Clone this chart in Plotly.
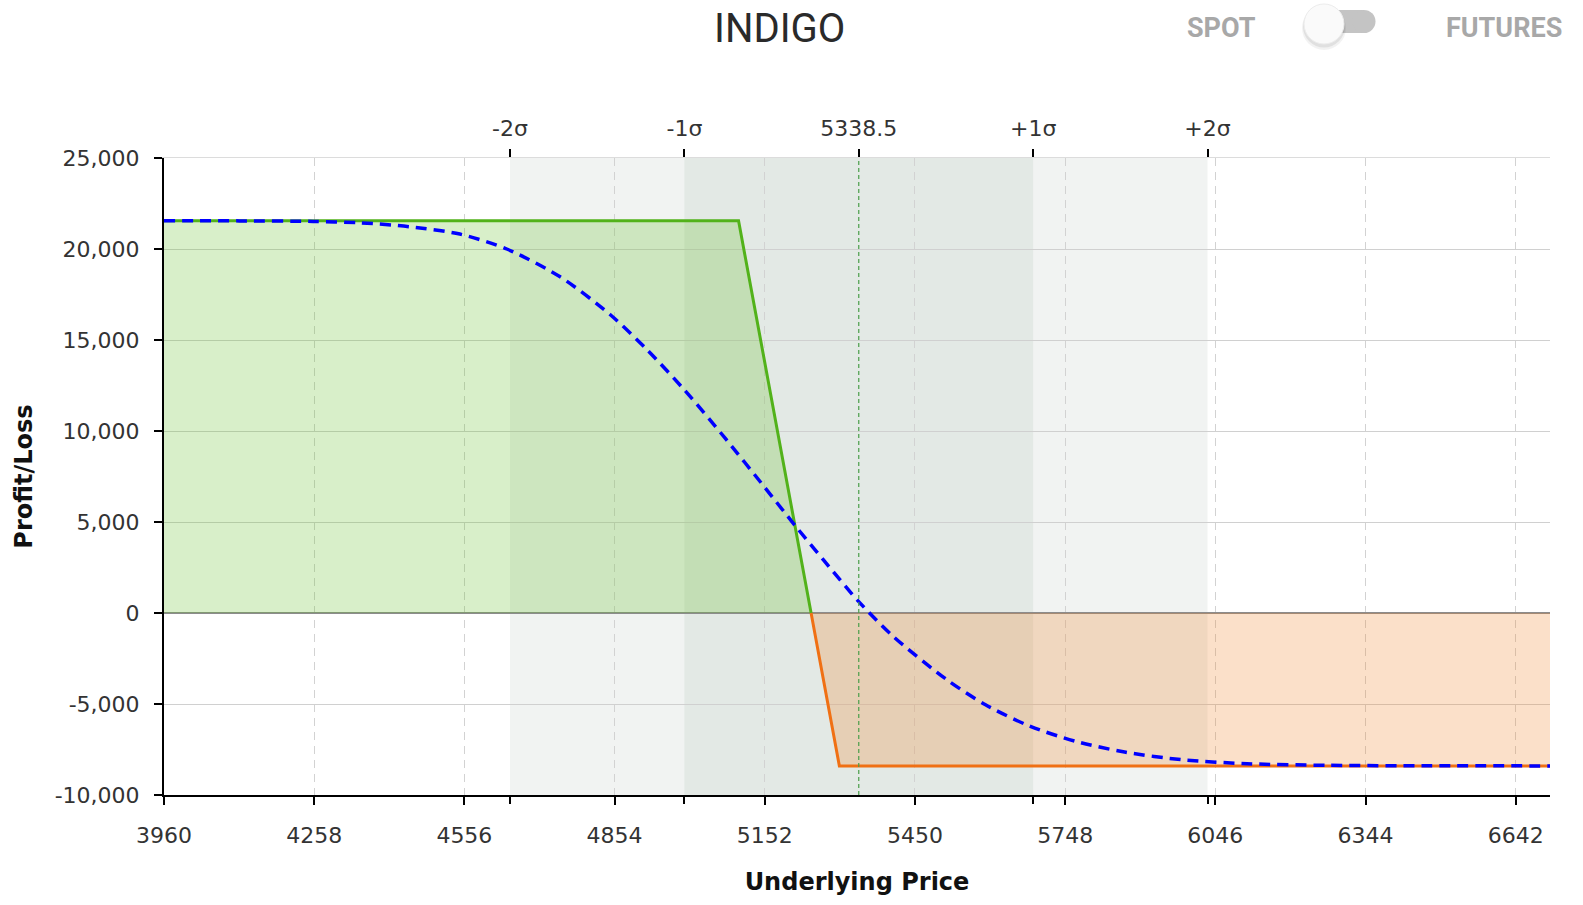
import numpy as np
import plotly.graph_objects as go

# ---------------- data ----------------
title_text = "INDIGO"
spot_center = 5338.5
sigma = 346.0
sigma_labels = ["-2σ", "-1σ", "5338.5", "+1σ", "+2σ"]
sigma_mult = [-2, -1, 0, 1, 2]
band_mult = [-2, -1, 1, 2]

x_ticks = [3960, 4258, 4556, 4854, 5152, 5450, 5748, 6046, 6344, 6642]
y_ticks = [-10000, -5000, 0, 5000, 10000, 15000, 20000, 25000]

# expiry payoff (breakpoints)
payoff_x = [3960, 5100, 5300, 6710]
payoff_y = [21550, 21550, -8400, -8400]

# current (T+0) P/L curve
curve_x = [3960, 4110, 4256, 4349, 4448, 4547, 4640, 4746, 4845, 4920, 4994, 5075,
           5152, 5212, 5268, 5338, 5407, 5513, 5590, 5679, 5769, 5866, 5979, 6109,
           6271, 6473, 6710]
curve_y = [21550, 21545, 21515, 21440, 21220, 20820, 20000, 18470, 16400, 14420, 12210, 9550,
           6900, 4810, 2930, 640, -1290, -3660, -5040, -6230, -7050, -7640, -8060, -8280,
           -8370, -8395, -8400]

x_range = [3960, 6710]
y_range = [-10000, 25000]

# ---------------- layout geometry ----------------
W, H = 1583, 905
ML, MR, MT, MB = 164, 33, 158, 110


def fx(px):
    return (px - ML) / (W - ML - MR)


def fy(py):
    return (H - MB - py) / (H - MT - MB)


sig_vals = [spot_center + m * sigma for m in sigma_mult]
band_vals = [spot_center + m * sigma for m in band_mult]

# split the payoff at zero
px_arr = np.array(payoff_x, dtype=float)
py_arr = np.array(payoff_y, dtype=float)
zero_x = float(np.interp(0.0, py_arr[::-1], px_arr[::-1]))
pos_mask = py_arr > 0
neg_mask = py_arr < 0
pos_x = list(px_arr[pos_mask]) + [zero_x]
pos_y = list(py_arr[pos_mask]) + [0.0]
neg_x = [zero_x] + list(px_arr[neg_mask])
neg_y = [0.0] + list(py_arr[neg_mask])

GREEN = "#52b21a"
ORANGE = "#f07014"

fig = go.Figure()

fig.add_trace(go.Scatter(
    x=pos_x, y=pos_y, mode="lines", fill="tozeroy",
    fillcolor="rgba(100,190,40,0.25)",
    line=dict(color=GREEN, width=3), hoverinfo="skip", showlegend=False))
fig.add_trace(go.Scatter(
    x=neg_x, y=neg_y, mode="lines", fill="tozeroy",
    fillcolor="rgba(240,130,40,0.25)",
    line=dict(color=ORANGE, width=3), hoverinfo="skip", showlegend=False))
fig.add_trace(go.Scatter(
    x=curve_x, y=curve_y, mode="lines",
    line=dict(color="#0000ff", width=3.5, dash="11px,7px", shape="spline", smoothing=0.8),
    hoverinfo="skip", showlegend=False))
# carriers so that the overlaying sigma axes are drawn
fig.add_trace(go.Scatter(x=sig_vals, y=[None] * len(sig_vals), xaxis="x2", yaxis="y",
                         mode="markers", hoverinfo="skip", showlegend=False))
fig.add_trace(go.Scatter(x=band_vals, y=[None] * len(band_vals), xaxis="x3", yaxis="y",
                         mode="markers", hoverinfo="skip", showlegend=False))

shapes = []
# sigma bands
shapes.append(dict(type="rect", xref="x", yref="paper", x0=sig_vals[0], x1=sig_vals[4], y0=0, y1=1,
                   fillcolor="#f1f3f2", line=dict(width=0), layer="below"))
shapes.append(dict(type="rect", xref="x", yref="paper", x0=sig_vals[1], x1=sig_vals[3], y0=0, y1=1,
                   fillcolor="#e3e9e5", line=dict(width=0), layer="below"))
# spot line
shapes.append(dict(type="line", xref="x", yref="paper", x0=spot_center, x1=spot_center, y0=0, y1=1,
                   line=dict(color="#4a9e4a", width=1.2, dash="4px,3px"), layer="above"))

# toggle switch (paper coords from pixels)
def circ(cx, cy, r, color, line_color=None):
    return dict(type="circle", xref="paper", yref="paper",
                x0=fx(cx - r), x1=fx(cx + r), y0=fy(cy + r), y1=fy(cy - r),
                fillcolor=color, line=dict(width=1 if line_color else 0, color=line_color or color),
                layer="above")

track_col = "#c4c4c4"
shapes.append(dict(type="rect", xref="paper", yref="paper",
                   x0=fx(1317), x1=fx(1364), y0=fy(33), y1=fy(10),
                   fillcolor=track_col, line=dict(width=0), layer="above"))
shapes.append(circ(1317, 21.5, 11.5, track_col))
shapes.append(circ(1364, 21.5, 11.5, track_col))
shapes.append(circ(1324, 28, 22, "rgba(0,0,0,0.05)"))
shapes.append(circ(1324, 26.5, 21, "rgba(0,0,0,0.07)"))
shapes.append(circ(1324, 24, 20, "#fafafa", "#ececec"))

annotations = [
    dict(text=title_text, x=fx(779), y=fy(28), xref="paper", yref="paper",
         xanchor="center", yanchor="middle", showarrow=False,
         font=dict(family="Roboto", size=40, color="#2a2a2a")),
    dict(text="<b>SPOT</b>", x=fx(1221), y=fy(28), xref="paper", yref="paper",
         xanchor="center", yanchor="middle", showarrow=False,
         font=dict(family="Roboto", size=27, color="#a8a8a8")),
    dict(text="<b>FUTURES</b>", x=fx(1504), y=fy(28), xref="paper", yref="paper",
         xanchor="center", yanchor="middle", showarrow=False,
         font=dict(family="Roboto", size=27, color="#a8a8a8")),
]

tick_font = dict(family="DejaVu Sans", size=22, color="#333333")
title_font = dict(family="DejaVu Sans", size=24, color="#111111")

y_ticktext = [f"{v:,}" for v in y_ticks]

fig.update_layout(
    width=W, height=H,
    margin=dict(l=ML, r=MR, t=MT, b=MB, pad=0),
    paper_bgcolor="white", plot_bgcolor="white",
    showlegend=False, hovermode=False,
    shapes=shapes, annotations=annotations,
    xaxis=dict(range=x_range, tickvals=x_ticks, ticktext=[str(v) for v in x_ticks],
               ticks="outside", ticklen=8, tickwidth=1.5, tickcolor="#000",
               showline=True, linecolor="#000", linewidth=2,
               showgrid=True, gridcolor="#d2d2d2", gridwidth=1, griddash="8px,6px",
               zeroline=False, tickfont=tick_font, ticklabelstandoff=12,
               title=dict(text="<b>Underlying Price</b>", font=title_font, standoff=26)),
    xaxis2=dict(range=x_range, overlaying="x", side="top", anchor="y",
                tickvals=sig_vals, ticktext=sigma_labels,
                ticks="outside", ticklen=8, tickwidth=1.5, tickcolor="#000",
                showline=True, linecolor="#dcdcdc", linewidth=1,
                showgrid=False, zeroline=False, tickfont=tick_font, ticklabelstandoff=4),
    xaxis3=dict(range=x_range, overlaying="x", side="bottom", anchor="y",
                tickvals=band_vals, ticktext=["" for _ in band_vals],
                ticks="outside", ticklen=8, tickwidth=1.5, tickcolor="#000",
                showline=False, showgrid=False, zeroline=False, showticklabels=True),
    yaxis=dict(range=y_range, tickvals=y_ticks, ticktext=y_ticktext,
               ticks="outside", ticklen=8, tickwidth=1.5, tickcolor="#000",
               showline=True, linecolor="#000", linewidth=2,
               showgrid=True, gridcolor="#d0d0d0", gridwidth=1,
               zeroline=True, zerolinecolor="#8c8c8c", zerolinewidth=1.5,
               tickfont=tick_font, ticklabelstandoff=10,
               title=dict(text="<b>Profit/Loss</b>", font=title_font, standoff=15)),
)

fig.write_html("out.html", config={"displayModeBar": False},
               post_script="document.body.style.margin='0';document.body.style.overflow='hidden';")
